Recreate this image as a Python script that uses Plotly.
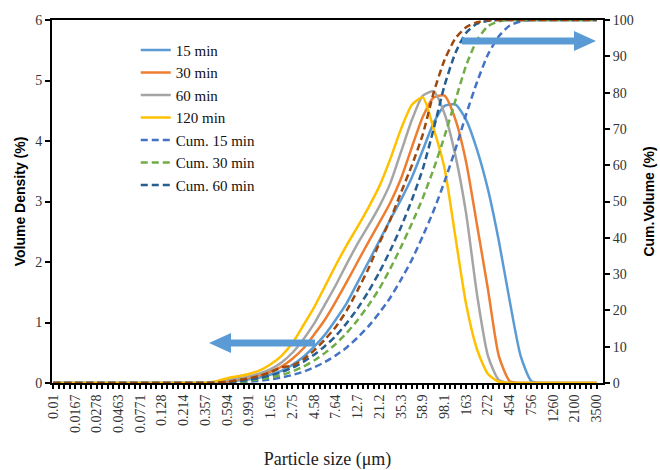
import plotly.graph_objects as go

# Particle size bins (µm) – every second instrument bin
sizes = [0.01, 0.0129, 0.0167, 0.0215, 0.0278, 0.0359, 0.0463, 0.0598, 0.0771, 0.0996,
         0.128, 0.166, 0.214, 0.276, 0.357, 0.460, 0.594, 0.767, 0.991, 1.28,
         1.65, 2.13, 2.75, 3.55, 4.58, 5.92, 7.64, 9.86, 12.7, 16.4,
         21.2, 27.4, 35.3, 45.6, 58.9, 76.0, 98.1, 127, 163, 211,
         272, 351, 454, 586, 756, 976, 1260, 1630, 2100, 2710, 3500]

Z14 = [0] * 14

dens_15 = Z14 + [0, 0, 0.02, 0.04, 0.06, 0.09, 0.14, 0.2, 0.3, 0.43, 0.6, 0.8, 1.05, 1.32,
                 1.66, 2.0, 2.35, 2.7, 3.03, 3.4, 3.85, 4.3, 4.58, 4.6, 4.35, 3.85, 3.2, 2.35,
                 1.35, 0.45, 0.03, 0, 0, 0, 0, 0, 0]
dens_30 = Z14 + [0, 0.01, 0.03, 0.06, 0.09, 0.13, 0.19, 0.27, 0.4, 0.57, 0.8, 1.05, 1.35, 1.67,
                 2.0, 2.33, 2.65, 2.98, 3.38, 3.9, 4.4, 4.72, 4.75, 4.35, 3.65, 2.6, 1.55, 0.45,
                 0.03, 0, 0, 0, 0, 0, 0, 0, 0]
dens_60 = Z14 + [0, 0.01, 0.05, 0.08, 0.11, 0.16, 0.23, 0.34, 0.5, 0.72, 0.98, 1.3, 1.62, 1.97,
                 2.3, 2.6, 2.92, 3.3, 3.82, 4.35, 4.75, 4.82, 4.45, 3.75, 2.8, 1.45, 0.45, 0.05,
                 0, 0, 0, 0, 0, 0, 0, 0, 0]
dens_120 = Z14 + [0, 0.03, 0.08, 0.11, 0.15, 0.21, 0.31, 0.45, 0.66, 0.95, 1.25, 1.6, 1.95, 2.28,
                  2.58, 2.9, 3.25, 3.7, 4.2, 4.6, 4.72, 4.2, 3.55, 2.4, 1.3, 0.55, 0.15, 0.02,
                  0, 0, 0, 0, 0, 0, 0, 0, 0]

cum_15 = Z14 + [0, 0, 0.05, 0.15, 0.35, 0.6, 1.0, 1.5, 2.2, 3.1, 4.3, 5.8, 7.6, 9.8,
                12.5, 15.6, 19.3, 23.5, 28.5, 34, 40.5, 47.5, 55.5, 64.5, 74, 83, 90.5, 95.5,
                98.5, 99.6, 100, 100, 100, 100, 100, 100, 100]
cum_30 = Z14 + [0, 0.03, 0.1, 0.3, 0.6, 1.0, 1.5, 2.2, 3.2, 4.5, 6.2, 8.3, 10.8, 13.8,
                17.3, 21.4, 26, 31.5, 37.5, 44, 51, 59, 68, 78, 87.5, 94.5, 98.3, 99.6,
                100, 100, 100, 100, 100, 100, 100, 100, 100]
cum_60 = Z14 + [0, 0.05, 0.2, 0.5, 0.9, 1.4, 2.1, 3.0, 4.2, 5.8, 7.8, 10.2, 13.0, 16.5,
                20.5, 25.2, 30.5, 36.5, 43, 50.5, 59, 70, 82, 91, 96.5, 99, 99.8, 100,
                100, 100, 100, 100, 100, 100, 100, 100, 100]
cum_120 = Z14 + [0, 0.1, 0.3, 0.8, 1.3, 2.0, 3.0, 4.3, 4.8, 6.5, 9.0, 12.0, 15.5, 20,
                 25.5, 31.5, 38.5, 45, 52.5, 60, 68.5, 80, 89, 95, 98, 99.4, 99.9, 100,
                 100, 100, 100, 100, 100, 100, 100, 100, 100]

tick_labels = ["0.01", "0.0167", "0.0278", "0.0463", "0.0771", "0.128", "0.214", "0.357",
               "0.594", "0.991", "1.65", "2.75", "4.58", "7.64", "12.7", "21.2", "35.3",
               "58.9", "98.1", "163", "272", "454", "756", "1260", "2100", "3500"]
tick_vals = [float(t) for t in tick_labels]

# minor ticks: each instrument bin (4 per labelled interval)
minor_vals = []
for a, b in zip(tick_vals[:-1], tick_vals[1:]):
    for m in range(1, 4):
        minor_vals.append(a * (b / a) ** (m / 4))

dens_series = [("15 min", dens_15, "#5B9BD5"), ("30 min", dens_30, "#ED7D31"),
               ("60 min", dens_60, "#A5A5A5"), ("120 min", dens_120, "#FFC000")]
cum_series = [("Cum. 15 min", cum_15, "#4472C4", True), ("Cum. 30 min", cum_30, "#70AD47", True),
              ("Cum. 60 min", cum_60, "#255E91", True), ("Cum. 120 min", cum_120, "#9E480E", False)]

fig = go.Figure()
for name, ys, col in dens_series:
    fig.add_trace(go.Scatter(x=sizes, y=ys, name=name, mode="lines",
                             line=dict(color=col, width=2.5, shape="spline", smoothing=0.6)))
for name, ys, col, show in cum_series:
    fig.add_trace(go.Scatter(x=sizes, y=ys, name=name, mode="lines", yaxis="y2",
                             showlegend=show,
                             line=dict(color=col, width=2.5, dash="7px,4px", shape="spline",
                                       smoothing=0.6)))

L, R, T, B = 52, 603, 20, 383
W, H = R - L, B - T


def px(x, y):
    return (x - L) / W, (B - y) / H


def arrow_path(x_tail, x_tip, y, shaft=7, head_len=22, head_h=20):
    d = 1 if x_tip > x_tail else -1
    xb = x_tip - d * head_len
    pts = [(x_tail, y - shaft / 2), (xb, y - shaft / 2), (xb, y - head_h / 2), (x_tip, y),
           (xb, y + head_h / 2), (xb, y + shaft / 2), (x_tail, y + shaft / 2)]
    s = ""
    for i, (a, b) in enumerate(pts):
        u, v = px(a, b)
        s += ("M" if i == 0 else "L") + f"{u:.5f},{v:.5f} "
    return s + "Z"


shapes = [
    dict(type="path", xref="paper", yref="paper", path=arrow_path(315, 209, 343),
         fillcolor="#5B9BD5", line=dict(width=0)),
    dict(type="path", xref="paper", yref="paper", path=arrow_path(462, 596, 41),
         fillcolor="#5B9BD5", line=dict(width=0)),
]

serif = "Liberation Serif"
sans = "Liberation Sans"
tick_font = dict(family=serif, size=14, color="#333333")

fig.update_layout(
    width=660, height=470,
    margin=dict(l=L, r=660 - R, t=T, b=470 - B),
    paper_bgcolor="white", plot_bgcolor="white",
    shapes=shapes,
    showlegend=True,
    legend=dict(x=0.152, y=0.962, xanchor="left", yanchor="top",
                bgcolor="rgba(0,0,0,0)", font=dict(family=serif, size=15, color="#111111"),
                tracegroupgap=0),
    xaxis=dict(type="log", range=[-2.0133, 3.6084],
               tickmode="array", tickvals=tick_vals, ticktext=tick_labels, tickangle=-90,
               tickfont=tick_font, ticks="outside", ticklen=4, tickwidth=1.5,
               tickcolor="black",
               minor=dict(tickvals=minor_vals, ticks="outside", ticklen=4, tickwidth=1.5,
                          tickcolor="black", showgrid=False),
               showline=True, linecolor="black", linewidth=2, mirror=True,
               showgrid=False, zeroline=False,
               title=dict(text="Particle size (μm)", font=dict(family=serif, size=18, color="#222"),
                          standoff=22),
               automargin=False),
    yaxis=dict(range=[0, 6], dtick=1, tickfont=tick_font, ticks="outside", ticklen=5,
               tickwidth=1.5, tickcolor="black",
               showline=True, linecolor="black", linewidth=2, showgrid=False, zeroline=False,
               title=dict(text="<b>Volume Density (%)</b>",
                          font=dict(family=sans, size=14, color="black"), standoff=6),
               automargin=False),
    yaxis2=dict(range=[0, 100], dtick=10, overlaying="y", side="right", tickfont=tick_font,
                ticks="outside", ticklen=5, tickwidth=1.5, tickcolor="black",
                showline=True, linecolor="black", linewidth=2, showgrid=False, zeroline=False,
                title=dict(text="<b>Cum.Volume (%)</b>",
                           font=dict(family=sans, size=14, color="black"), standoff=11),
                automargin=False),
)

fig.write_html("out.html", config={"displayModeBar": False},
               post_script="document.body.style.margin='0';document.body.style.overflow='hidden';")
